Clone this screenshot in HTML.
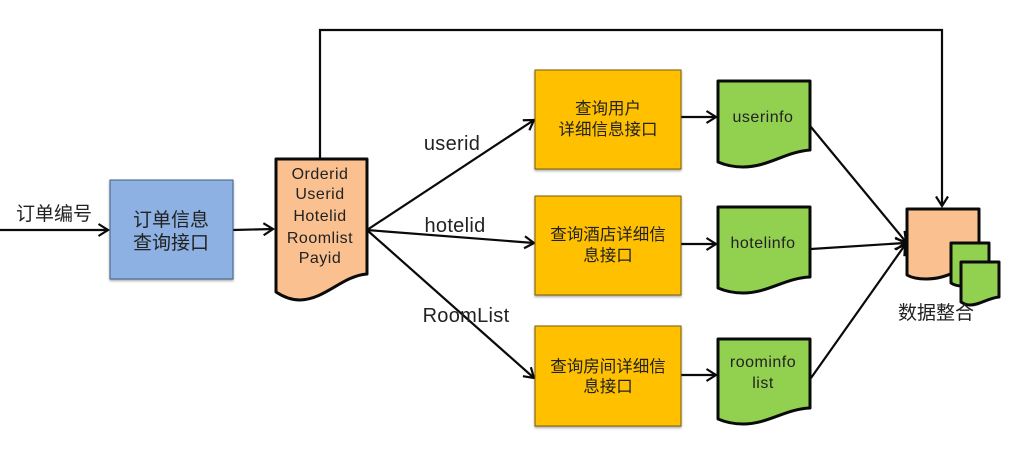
<!DOCTYPE html>
<html><head><meta charset="utf-8"><style>
html,body{margin:0;padding:0;background:#fff}
svg{display:block}
text{font-family:"Liberation Sans","Noto Sans CJK SC",sans-serif;text-anchor:middle;fill:#222}
.c{font-family:"Noto Sans CJK SC","Liberation Sans",sans-serif}
.a{fill:none;stroke:#0a0a0a;stroke-width:2.2}
.d{stroke:#0a0a0a;stroke-width:3;stroke-linejoin:round}
</style></head><body>
<svg width="1012" height="458" viewBox="0 0 1012 458" xmlns="http://www.w3.org/2000/svg">
<defs>
<marker id="m" viewBox="0 0 12 14" refX="10.5" refY="7" markerWidth="12" markerHeight="14" markerUnits="userSpaceOnUse" orient="auto"><path d="M1,1 L10.5,7 L1,13" fill="none" stroke="#0a0a0a" stroke-width="2.2"/></marker>
<filter id="s" x="-5%" y="-5%" width="110%" height="110%"><feDropShadow dx="0" dy="1.5" stdDeviation="1.2" flood-color="#000" flood-opacity=".35"/></filter>
</defs>
<path class="a" d="M320,158 V30 H942 V206" marker-end="url(#m)"/>
<line class="a" x1="0" y1="230" x2="108" y2="230" marker-end="url(#m)"/>
<line class="a" x1="233" y1="230" x2="273" y2="229" marker-end="url(#m)"/>
<line class="a" x1="367" y1="230" x2="534" y2="120" marker-end="url(#m)"/>
<line class="a" x1="367" y1="230" x2="534" y2="243" marker-end="url(#m)"/>
<line class="a" x1="367" y1="230" x2="534" y2="378" marker-end="url(#m)"/>
<line class="a" x1="681" y1="117" x2="716" y2="117" marker-end="url(#m)"/>
<line class="a" x1="681" y1="244" x2="716" y2="244" marker-end="url(#m)"/>
<line class="a" x1="681" y1="375" x2="716" y2="375" marker-end="url(#m)"/>
<line class="a" x1="811" y1="127" x2="906" y2="242" marker-end="url(#m)"/>
<line class="a" x1="811" y1="249" x2="905" y2="243" marker-end="url(#m)"/>
<line class="a" x1="811" y1="378" x2="905" y2="245" marker-end="url(#m)"/>

<rect x="110" y="180" width="123" height="99" fill="#8db1e2" stroke="#3f5f85" stroke-width="1" filter="url(#s)"/>
<rect x="535" y="70" width="146" height="99" fill="#ffc000" stroke="#7a5c00" stroke-width="1" filter="url(#s)"/>
<rect x="535" y="196" width="146" height="99" fill="#ffc000" stroke="#7a5c00" stroke-width="1" filter="url(#s)"/>
<rect x="535" y="326" width="146" height="100" fill="#ffc000" stroke="#7a5c00" stroke-width="1" filter="url(#s)"/>

<path class="d" fill="#fac090" stroke-width="3.4" d="M276,159 H367 V274 C342,276 326,299 300,300 C290,300 282,296 276,292 Z"/>
<path class="d" fill="#92d050" d="M718,81 H810 V150 C785,152 768,167 743,167 C733,167 725,165 718,162 Z"/>
<path class="d" fill="#92d050" d="M718,207 H810 V277 C785,278 768,293 743,293 C733,293 725,291 718,288 Z"/>
<path class="d" fill="#92d050" d="M718,339 H810 V408 C785,409 768,424 743,424 C733,424 725,422 718,419 Z"/>
<path class="d" fill="#fac090" d="M907,209 H979 V266 C960,266 950,279 926,279 C918,279 912,278 907,275 Z"/>
<path class="d" fill="#92d050" d="M951,243 H989 V280 C980,282 972,286 962,286 C958,286 954,285 951,283 Z"/>
<path class="d" fill="#92d050" d="M961,262 H999 V297 C988,298 980,305 970,305 C967,305 964,304 961,302 Z"/>

<text class="c" x="54" y="220" font-size="19">订单编号</text>
<text class="c" x="171" y="226" font-size="19">订单信息</text>
<text class="c" x="171" y="249" font-size="19">查询接口</text>

<g font-size="16" letter-spacing=".5">
<text x="320" y="179">Orderid</text>
<text x="320" y="199">Userid</text>
<text x="320" y="221">Hotelid</text>
<text x="320" y="243">Roomlist</text>
<text x="320" y="263">Payid</text>
<text x="763" y="122">userinfo</text>
<text x="763" y="248">hotelinfo</text>
<text x="763" y="367">roominfo</text>
<text x="763" y="388">list</text>
</g>
<g font-size="20" letter-spacing=".3">
<text x="452" y="150">userid</text>
<text x="455" y="232">hotelid</text>
<text x="466" y="322">RoomList</text>
</g>
<g font-size="16.5">
<text class="c" x="608" y="114">查询用户</text>
<text class="c" x="608" y="135">详细信息接口</text>
<text class="c" x="608" y="240">查询酒店详细信</text>
<text class="c" x="608" y="261">息接口</text>
<text class="c" x="608" y="372">查询房间详细信</text>
<text class="c" x="608" y="392">息接口</text>
</g>
<text class="c" x="936" y="319" font-size="19">数据整合</text>
</svg>
</body></html>
